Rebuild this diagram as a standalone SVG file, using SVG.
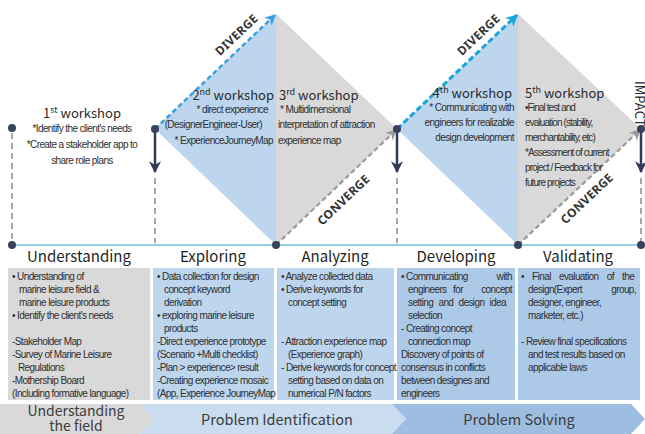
<svg xmlns="http://www.w3.org/2000/svg" width="645" height="434" viewBox="0 0 645 434">
  <style>
    .ttl { font-family: "Noto Sans CJK KR", "Noto Sans", sans-serif; font-size: 13px; fill: #2b2b2b; }
    .stage { font-family: "Noto Sans CJK KR", "Noto Sans", sans-serif; font-size: 15px; fill: #1f1f1f; text-anchor: middle; }
    .band { font-family: "Noto Sans CJK KR", "Noto Sans", sans-serif; font-size: 14.5px; fill: #3c3c3c; text-anchor: middle; }
    .band2 { font-size: 14px; }
    .body { font-family: "Liberation Sans", Arial, sans-serif; font-size: 10px; fill: #2e2e2e; letter-spacing: -0.6px; }
    .tight { letter-spacing: -0.9px; }
    .mid { text-anchor: middle; }
    .end { text-anchor: end; }
    .tag { font-family: "Noto Sans", "Liberation Sans", sans-serif; font-size: 12px; font-weight: bold; fill: #333; text-anchor: middle; letter-spacing: 0.3px; }
    .dot { fill: #36425e; }
    .drop { stroke: #2f3b58; stroke-width: 2.5; fill: none; }
    .guide { stroke: #a8a8a8; stroke-width: 2; stroke-dasharray: 6 4; fill: none; }
    .div1 { stroke: #3d9fe0; stroke-width: 2.5; stroke-dasharray: 5 3; fill: none; }
    .div2 { stroke: #1aa5d8; stroke-width: 3; stroke-dasharray: 6 3; fill: none; }
    .conv { stroke: #9a9a9a; stroke-width: 2.2; stroke-dasharray: 5 3; fill: none; }
    .half-b { fill: #bdd6ee; }
    .half-g { fill: #d9d9d9; }
  </style>
  <defs>
    <marker id="ahBlue" viewBox="0 0 10 10" refX="9" refY="5" markerWidth="11" markerHeight="11" markerUnits="userSpaceOnUse" orient="auto">
      <path d="M0,0 L10,5 L0,10 L3,5 z" fill="#3d9fe0"/>
    </marker>
    <marker id="ahCyan" viewBox="0 0 10 10" refX="9" refY="5" markerWidth="12" markerHeight="12" markerUnits="userSpaceOnUse" orient="auto">
      <path d="M0,0 L10,5 L0,10 L3,5 z" fill="#1aa5d8"/>
    </marker>
    <marker id="ahGray" viewBox="0 0 10 10" refX="9" refY="5" markerWidth="11" markerHeight="11" markerUnits="userSpaceOnUse" orient="auto">
      <path d="M0,0 L10,5 L0,10 L3,5 z" fill="#9a9a9a"/>
    </marker>
    <marker id="ahDark" viewBox="0 0 10 10" refX="9" refY="5" markerWidth="12" markerHeight="12" markerUnits="userSpaceOnUse" orient="auto">
      <path d="M0,0 L10,5 L0,10 L3,5 z" fill="#2f3b58"/>
    </marker>
  </defs>

  <rect width="645" height="434" fill="#ffffff"/>

  <!-- double-diamond halves -->
  <g id="diamond-1">
    <polygon class="half-b" points="155,129 276,14 276,245"/>
    <polygon class="half-g" points="276,14 397,129 276,245"/>
  </g>
  <g id="diamond-2">
    <polygon class="half-b" points="397,129 518,14 518,245"/>
    <polygon class="half-g" points="518,14 641,129 518,245"/>
  </g>

  <!-- connectors -->
  <g id="connectors">
    <line x1="12" y1="245" x2="641" y2="245" stroke="#6cc4d4" stroke-width="1.5"/>
    <line class="guide" x1="12" y1="133" x2="12" y2="242"/>
    <line class="guide" x1="155" y1="178" x2="155" y2="243"/>
    <line class="guide" x1="397" y1="178" x2="397" y2="243"/>
    <line class="guide" x1="641" y1="178" x2="641" y2="243"/>
    <line class="drop" x1="155" y1="129" x2="155" y2="172" marker-end="url(#ahDark)"/>
    <line class="drop" x1="397" y1="129" x2="397" y2="172" marker-end="url(#ahDark)"/>
    <line class="drop" x1="641" y1="129" x2="641" y2="172" marker-end="url(#ahDark)"/>
    <line class="div1" x1="155" y1="129" x2="275" y2="15" marker-end="url(#ahBlue)"/>
    <line class="div2" x1="397" y1="129" x2="517" y2="15" marker-end="url(#ahCyan)"/>
    <line class="conv" x1="276" y1="245" x2="396" y2="130" marker-end="url(#ahGray)"/>
    <line class="conv" x1="518" y1="245" x2="640" y2="130" marker-end="url(#ahGray)"/>
    <text class="tag" transform="translate(155,129) rotate(-43.5)" x="124" y="-8">DIVERGE</text>
    <text class="tag" transform="translate(397,129) rotate(-43.5)" x="124" y="-8">DIVERGE</text>
    <text class="tag" transform="translate(276,245) rotate(-43.5)" x="80" y="18">CONVERGE</text>
    <text class="tag" transform="translate(518,245) rotate(-43.5)" x="82" y="18">CONVERGE</text>
    <circle class="dot" cx="12" cy="128" r="4"/>
    <circle class="dot" cx="155" cy="129" r="4"/>
    <circle class="dot" cx="397" cy="129" r="4"/>
    <circle class="dot" cx="641" cy="129" r="4"/>
    <circle class="dot" cx="12" cy="245" r="4"/>
    <circle class="dot" cx="276" cy="245" r="4"/>
    <circle class="dot" cx="518" cy="245" r="4"/>
    <circle class="dot" cx="641" cy="245" r="4"/>
  </g>

  <g id="impact">
    <text class="ttl" transform="translate(635,81) rotate(90)">IMPACT</text>
  </g>

  <!-- workshops -->
  <g id="workshop-1">
    <text class="ttl mid" x="82" y="118">1<tspan font-size="9" dy="-5">st</tspan><tspan dy="5"> workshop</tspan></text>
    <text class="body mid" x="82" y="132">*Identify the client's needs</text>
    <text class="body mid" x="82" y="148">*Create a stakeholder app to</text>
    <text class="body mid" x="82" y="164">share role plans</text>
  </g>
  <g id="workshop-2">
    <text class="ttl end" x="274" y="100">2<tspan font-size="9" dy="-5">nd</tspan><tspan dy="5"> workshop</tspan></text>
    <text class="body end" x="268" y="113">* direct experience</text>
    <text class="body end" x="262" y="128">(DesignerEngineer-User)</text>
    <text class="body end" x="273" y="144">* ExperienceJourneyMap</text>
  </g>
  <g id="workshop-3">
    <text class="ttl" x="279" y="100">3<tspan font-size="9" dy="-5">rd</tspan><tspan dy="5"> workshop</tspan></text>
    <text class="body" x="280" y="113">* Multidimensional</text>
    <text class="body" x="278" y="128">interpretation  of attraction</text>
    <text class="body" x="278" y="144">experience  map</text>
  </g>
  <g id="workshop-4">
    <text class="ttl end" x="512" y="98">4<tspan font-size="9" dy="-5">th</tspan><tspan dy="5"> workshop</tspan></text>
    <text class="body end" x="514" y="111">* Communicating with</text>
    <text class="body end" x="514" y="126">engineers for realizable</text>
    <text class="body end" x="514" y="141">design development</text>
  </g>
  <g id="workshop-5">
    <text class="ttl" x="525" y="98">5<tspan font-size="9" dy="-5">th</tspan><tspan dy="5"> workshop</tspan></text>
    <text class="body tight" x="525" y="111">•Final test and</text>
    <text class="body tight" x="525" y="126">evaluation  (stability,</text>
    <text class="body tight" x="525" y="141">merchantability,  etc)</text>
    <text class="body tight" x="525" y="156">*Assessment of current</text>
    <text class="body tight" x="525" y="171">project / Feedback for</text>
    <text class="body tight" x="525" y="186">future projects</text>
  </g>

  <!-- stage boxes -->
  <g id="stage-understanding">
    <text class="stage" x="79" y="262">Understanding</text>
    <rect x="8" y="268" width="142" height="132" fill="#d9d9d9"/>
    <text class="body" x="12" y="280">• Understanding of</text>
    <text class="body" x="19" y="293">marine leisure field &amp;</text>
    <text class="body" x="19" y="306">marine leisure products</text>
    <text class="body" x="12" y="319">• Identify the client's needs</text>
    <text class="body" x="12" y="345">-Stakeholder Map</text>
    <text class="body" x="12" y="358">-Survey of Marine Leisure</text>
    <text class="body" x="18" y="371">Regulations</text>
    <text class="body" x="12" y="384">-Mothership Board</text>
    <text class="body" x="12" y="397">(Including formative language)</text>
  </g>
  <g id="stage-exploring">
    <text class="stage" x="213" y="262">Exploring</text>
    <rect x="153" y="268" width="121" height="132" fill="#bdd6ee"/>
    <text class="body" x="157" y="280">• Data collection for design</text>
    <text class="body" x="164" y="293">concept keyword</text>
    <text class="body" x="164" y="306">derivation</text>
    <text class="body" x="157" y="319">• exploring marine leisure</text>
    <text class="body" x="164" y="332">products</text>
    <text class="body" x="157" y="345">-Direct experience prototype</text>
    <text class="body" x="157" y="358">(Scenario +Multi checklist)</text>
    <text class="body" x="157" y="371">-Plan &gt; experience&gt; result</text>
    <text class="body" x="157" y="384">-Creating experience mosaic</text>
    <text class="body" x="157" y="397">(App, Experience JourneyMap</text>
  </g>
  <g id="stage-analyzing">
    <text class="stage" x="335" y="262">Analyzing</text>
    <rect x="277" y="268" width="117" height="132" fill="#bdd6ee"/>
    <text class="body" x="281" y="280">• Analyze collected data</text>
    <text class="body" x="281" y="293">• Derive keywords for</text>
    <text class="body" x="288" y="306">concept setting</text>
    <text class="body" x="281" y="345">- Attraction experience map</text>
    <text class="body" x="288" y="358">(Experience graph)</text>
    <text class="body" x="281" y="371">- Derive keywords for concept</text>
    <text class="body" x="288" y="384">setting based on data on</text>
    <text class="body" x="288" y="397">numerical P/N factors</text>
  </g>
  <g id="stage-developing">
    <text class="stage" x="456" y="262">Developing</text>
    <rect x="397" y="268" width="118" height="132" fill="#adc9e8"/>
    <text class="body" x="401" y="280">• Communicating</text>
    <text class="body end" x="512" y="280">with</text>
    <text class="body" x="408" y="293">engineers</text>
    <text class="body mid" x="458" y="293">for</text>
    <text class="body end" x="512" y="293">concept</text>
    <text class="body" x="408" y="306" word-spacing="3">setting and design idea</text>
    <text class="body" x="408" y="319">selection</text>
    <text class="body" x="401" y="332">- Creating concept</text>
    <text class="body" x="408" y="345">connection map</text>
    <text class="body" x="401" y="358">Discovery of points of</text>
    <text class="body" x="401" y="371">consensus in conflicts</text>
    <text class="body" x="401" y="384">between designes and</text>
    <text class="body" x="401" y="397">engineers</text>
  </g>
  <g id="stage-validating">
    <text class="stage" x="578" y="262">Validating</text>
    <rect x="518" y="268" width="122" height="132" fill="#adc9e8"/>
    <text class="body" x="521" y="280" word-spacing="6">• Final evaluation of the</text>
    <text class="body" x="528" y="293">design(Expert</text>
    <text class="body end" x="636" y="293">group,</text>
    <text class="body" x="528" y="306">designer, engineer,</text>
    <text class="body" x="528" y="319">marketer, etc.)</text>
    <text class="body" x="521" y="345">- Review final specifications</text>
    <text class="body" x="528" y="358">and test results based on</text>
    <text class="body" x="528" y="371">applicable laws</text>
  </g>

  <!-- phase band -->
  <g id="phase-field">
    <polygon points="0,404 140,404 154,419 140,434 0,434" fill="#d9d9d9"/>
    <text class="band band2" x="76" y="416">Understanding</text>
    <text class="band band2" x="76" y="431">the field</text>
  </g>
  <g id="phase-identification">
    <polygon points="140,404 392,404 406,419 392,434 140,434 154,419" fill="#c9dcf0"/>
    <text class="band" x="277" y="425">Problem Identification</text>
  </g>
  <g id="phase-solving">
    <polygon points="392,404 631,404 645,419 631,434 392,434 406,419" fill="#9dbde1"/>
    <text class="band" x="519" y="425">Problem Solving</text>
  </g>
</svg>
